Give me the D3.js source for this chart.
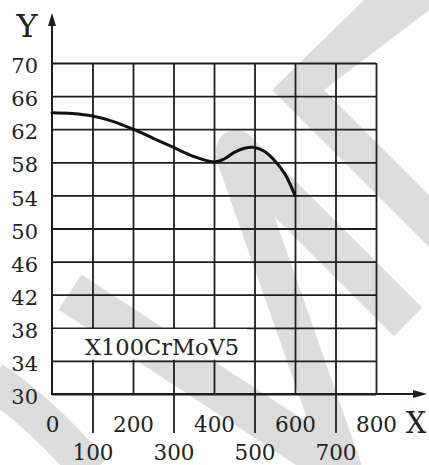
<!DOCTYPE html>
<html>
<head>
<meta charset="utf-8">
<script src="https://cdn.jsdelivr.net/npm/d3@7"></script>
<style>
  html, body { margin: 0; padding: 0; background: #fff; }
  svg { display: block; }
  text { font-family: "DejaVu Serif", "Liberation Serif", serif; fill: #222; }
</style>
</head>
<body>
<svg id="chart" width="429" height="465"></svg>
<script>
// Tempering curve of X100CrMoV5: hardness (Y) against tempering temperature (X)
const temperature = [0, 50, 100, 150, 200, 250, 300, 350, 400, 425, 450, 475, 500, 525, 550, 575, 600];
const hardness    = [64.0, 63.9, 63.6, 62.95, 62.0, 60.9, 59.8, 58.7, 58.05, 58.4, 59.2, 59.7, 59.8, 59.3, 58.2, 56.6, 54.0];

const xTicksUpper = [0, 200, 400, 600, 800];
const xTicksLower = [100, 300, 500, 700];
const xGrid       = [100, 200, 300, 400, 500, 600, 700, 800];
const yTicks      = [30, 34, 38, 42, 46, 50, 54, 58, 62, 66, 70];

const steelGrade = "X100CrMoV5";
const xTitle = "X";
const yTitle = "Y";

const svg = d3.select("#chart");
const W = 429, H = 465;
const plotLeft = 52, plotRight = 376, plotTop = 63, plotBottom = 394;
const ink = "#1e1e1e";
const haze = "#dcdcdc";

const x = d3.scaleLinear().domain([0, 800]).range([plotLeft, plotRight]);
const y = d3.scaleLinear().domain([30, 70]).range([plotBottom, plotTop]);

svg.append("rect").attr("width", W).attr("height", H).attr("fill", "#fff");

// faint grey backdrop bands
const band = svg.append("g").attr("fill", haze).attr("stroke", "none");
band.append("path").attr("d", "M272,90 L366,-2 L432,-2 L432,8 L324,90 L432,198 L432,250 Z");
band.append("circle").attr("cx", 236).attr("cy", 150).attr("r", 20);
const bandStroke = svg.append("g").attr("fill", "none").attr("stroke", haze);
bandStroke.append("path").attr("d", "M236,150 L408,322").attr("stroke-width", 40);
bandStroke.append("path").attr("d", "M232,150 L345,472").attr("stroke-width", 36);
bandStroke.append("path").attr("d", "M70,292 L345,472").attr("stroke-width", 42);
bandStroke.append("path").attr("d", "M-8,380 Q40,412 92,472").attr("stroke-width", 38);

// horizontal grid + y labels
const yAxis = svg.append("g")
  .attr("transform", `translate(${plotLeft},0)`)
  .call(d3.axisLeft(y).tickValues(yTicks).tickSize(-(plotRight - plotLeft)).tickPadding(14).tickFormat(d3.format("d")));
yAxis.select(".domain").remove();
yAxis.selectAll(".tick line").attr("stroke", ink).attr("stroke-width", 1.8);
yAxis.selectAll(".tick text")
  .attr("dy", "0.46em")
  .style("font-size", "21px")
  .attr("fill", "#222");

// vertical grid
const xGridAxis = svg.append("g")
  .attr("transform", `translate(0,${plotBottom})`)
  .call(d3.axisBottom(x).tickValues(xGrid).tickSize(-(plotBottom - plotTop)).tickFormat(""));
xGridAxis.select(".domain").remove();
xGridAxis.selectAll(".tick line").attr("stroke", ink).attr("stroke-width", 1.8);

// label box sitting between the 38 and 34 lines
svg.append("rect")
  .attr("x", plotLeft + 1.5).attr("y", y(38) + 1.2)
  .attr("width", 193).attr("height", y(34) - y(38) - 2.4)
  .attr("fill", "#fff");
svg.append("text")
  .attr("x", 85).attr("y", y(34) - 6)
  .style("font-size", "22.5px")
  .text(steelGrade);

// x labels, upper row
const xUpper = svg.append("g")
  .attr("transform", `translate(0,${plotBottom})`)
  .call(d3.axisBottom(x).tickValues(xTicksUpper).tickSize(0).tickPadding(0).tickFormat(d3.format("d")));
xUpper.select(".domain").remove();
xUpper.selectAll(".tick text").attr("y", 38).attr("dy", 0).style("font-size", "21.5px");

// x labels, lower row with long ticks
const xLower = svg.append("g")
  .attr("transform", `translate(0,${plotBottom})`)
  .call(d3.axisBottom(x).tickValues(xTicksLower).tickSize(39).tickPadding(0).tickFormat(d3.format("d")));
xLower.select(".domain").remove();
xLower.selectAll(".tick line").attr("stroke", ink).attr("stroke-width", 1.8);
xLower.selectAll(".tick text").attr("y", 66).attr("dy", 0).style("font-size", "21.5px");

// axes with arrows
svg.append("line").attr("x1", plotLeft).attr("x2", plotLeft).attr("y1", plotBottom + 1).attr("y2", 22)
  .attr("stroke", ink).attr("stroke-width", 2);
svg.append("path").attr("d", `M${plotLeft},13 L${plotLeft - 4},26 L${plotLeft + 4},26 Z`).attr("fill", ink);
svg.append("line").attr("x1", plotLeft - 1).attr("x2", 418).attr("y1", plotBottom).attr("y2", plotBottom)
  .attr("stroke", ink).attr("stroke-width", 2);
svg.append("path").attr("d", `M427,${plotBottom} L413,${plotBottom - 4} L413,${plotBottom + 4} Z`).attr("fill", ink);

svg.append("text").attr("x", 27).attr("y", 37).attr("text-anchor", "middle")
  .style("font-size", "32px").text(yTitle);
svg.append("text").attr("x", 416).attr("y", 433).attr("text-anchor", "middle")
  .style("font-size", "29px").text(xTitle);

// hardness curve
const pts = temperature.map((t, i) => [t, hardness[i]]);
svg.append("path")
  .datum(pts)
  .attr("fill", "none")
  .attr("stroke", "#111")
  .attr("stroke-width", 3)
  .attr("stroke-linecap", "round")
  .attr("d", d3.line().x(d => x(d[0])).y(d => y(d[1])).curve(d3.curveCatmullRom.alpha(0.5)));
</script>
</body>
</html>
